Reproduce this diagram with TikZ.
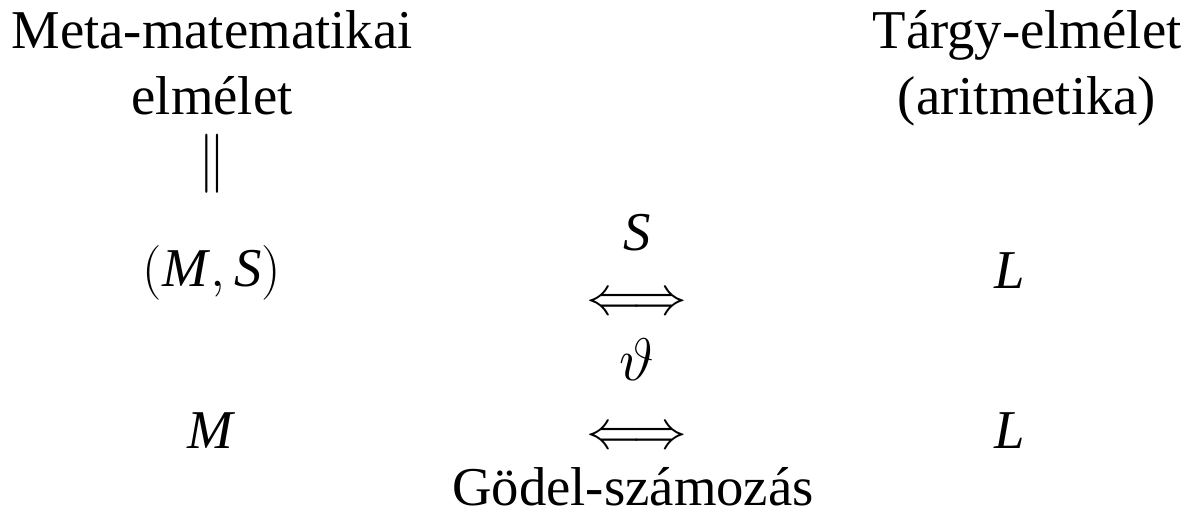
\RequirePackage{fix-cm}
\documentclass[tikz,border=0pt]{standalone}
\usepackage{fontspec}
\setmainfont{Liberation Serif}
\newcommand{\mi}[1]{\textit{#1}}
\begin{document}
\begin{tikzpicture}[x=1pt,y=-1pt,
  lbl/.style={anchor=base, inner sep=0pt, font=\fontsize{54.7}{66}\selectfont}]
\useasboundingbox (0,0) rectangle (1181,522);
% left column
\node[lbl] (meta1) at (212,48) {Meta-matematikai};
\node[lbl] (meta2) at (212,114) {elmélet};
\node[lbl] (eq) at (212,178) {\scalebox{1}[1.08]{$\|$}};
\node[lbl] (ms) at (212,286) {$($\mi{M}$,\,$\mi{S}$)$};
\node[lbl] (m) at (212,448) {\mi{M}};
% right column
\node[lbl] (t1) at (1027,48) {Tárgy-elmélet};
\node[lbl] (t2) at (1027,114) {(aritmetika)};
\node[lbl] (l1) at (1010,288) {\mi{L}};
\node[lbl] (l2) at (1010,448) {\mi{L}};
% center column
\node[lbl] (s) at (637,250) {\mi{S}};
\node[lbl] (a1) at (637,314) {$\Longleftrightarrow$};
\node[lbl] (th) at (637,380) {\scalebox{1.1}{$\vartheta$}};
\node[lbl] (a2) at (637,448) {$\Longleftrightarrow$};
\node[lbl] (g) at (633,505) {Gödel-számozás};
\end{tikzpicture}
\end{document}
